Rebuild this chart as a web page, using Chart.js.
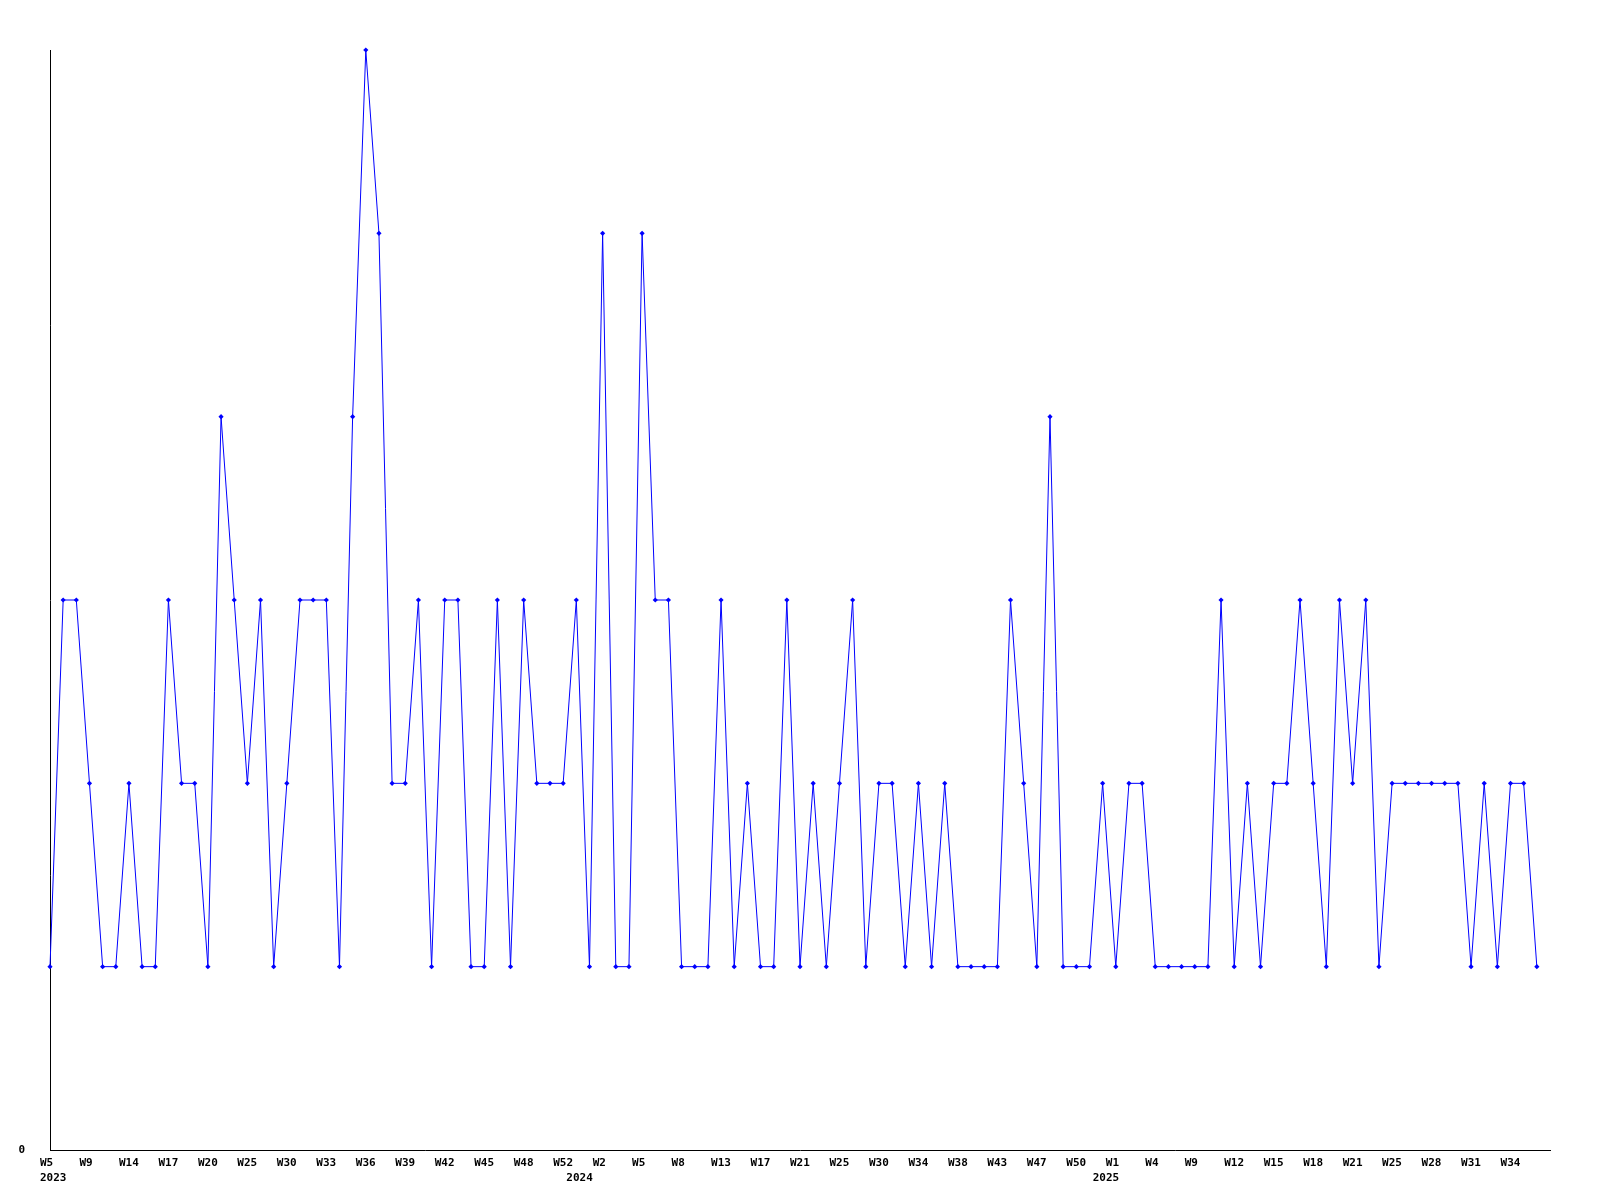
<!DOCTYPE html>
<html>
<head>
<meta charset="utf-8">
<script src="https://cdn.jsdelivr.net/npm/chart.js@4.4.0/dist/chart.umd.min.js"></script>
<style>
  body { margin: 0; background: #ffffff; }
  canvas { display: block; }
</style>
</head>
<body>
<canvas id="grafico" width="1600" height="1200"></canvas>
<script>
// rotulos das semanas (um a cada 3 pontos)
var semanas = ['W5','W9','W14','W17','W20','W25','W30','W33','W36','W39','W42','W45','W48','W52',
               'W2','W5','W8','W13','W17','W21','W25','W30','W34','W38','W43','W47','W50',
               'W1','W4','W9','W12','W15','W18','W21','W25','W28','W31','W34'];

// anos e em qual ponto cada um comeca
var anos = ['2023','2024','2025'];
var inicioAno = [0, 40, 80];

// valores, um por semana
var valores = [1,3,3,2,1,1,2,1,1,3,
               2,2,1,4,3,2,3,1,2,3,
               3,3,1,4,6,5,2,2,3,1,
               3,3,1,1,3,1,3,2,2,2,
               3,1,5,1,1,5,3,3,1,1,
               1,3,1,2,1,1,3,1,2,1,
               2,3,1,2,2,1,2,1,2,1,
               1,1,1,3,2,1,4,1,1,1,
               2,1,2,2,1,1,1,1,1,3,
               1,2,1,2,2,3,2,1,3,2,
               3,1,2,2,2,2,2,2,1,2,
               1,2,2,1,1];

var ticksY = [0];

// montando os labels do eixo x
var labels = [];
for (var i = 0; i < valores.length; i++) {
    labels.push(i % 3 == 0 ? semanas[i / 3] : '');
}

var fonte = { family: 'DejaVu Sans Mono', size: 11, weight: 'bold', lineHeight: 1.35 };

const config = {
    type: 'line',
    data: {
        labels: labels,
        datasets: [{
            data: valores,
            borderColor: '#0000ff',
            backgroundColor: '#0000ff',
            borderWidth: 1,
            tension: 0,
            pointStyle: 'rectRot',
            pointRadius: function (ctx) { return ctx.dataIndex == valores.length - 1 ? 0 : 2.6; },
            pointBorderWidth: 0,
            clip: false
        }]
    },
    options: {
        responsive: false,
        animation: false,
        devicePixelRatio: 1,
        layout: { padding: { top: 50, right: 50, left: 0, bottom: 0 } },
        plugins: { legend: { display: false }, tooltip: { enabled: false } },
        scales: {
            x: {
                type: 'category',
                offset: false,
                grid: { display: false, drawTicks: false },
                border: { display: true, color: '#000000', width: 1 },
                afterFit: function (escala) { escala.height = 50; },
                ticks: {
                    autoSkip: false,
                    maxRotation: 0,
                    minRotation: 0,
                    align: 'start',
                    labelOffset: -10,
                    padding: 6,
                    color: '#000000',
                    font: fonte,
                    callback: function (valor, indice) {
                        var ano = inicioAno.indexOf(indice);
                        var semana = labels[indice];
                        if (ano >= 0) return [semana, anos[ano]];
                        if (semana == '') return null;
                        return semana;
                    }
                }
            },
            y: {
                min: 0,
                max: 6,
                grid: { display: false, drawTicks: false },
                border: { display: true, color: '#000000', width: 1 },
                afterFit: function (escala) { escala.width = 50; },
                ticks: {
                    stepSize: 1,
                    padding: 25,
                    color: '#000000',
                    font: fonte,
                    callback: function (valor) {
                        return ticksY.indexOf(valor) >= 0 ? String(valor) : null;
                    }
                }
            }
        }
    }
};

var grafico = new Chart(document.getElementById('grafico'), config);
</script>
</body>
</html>
